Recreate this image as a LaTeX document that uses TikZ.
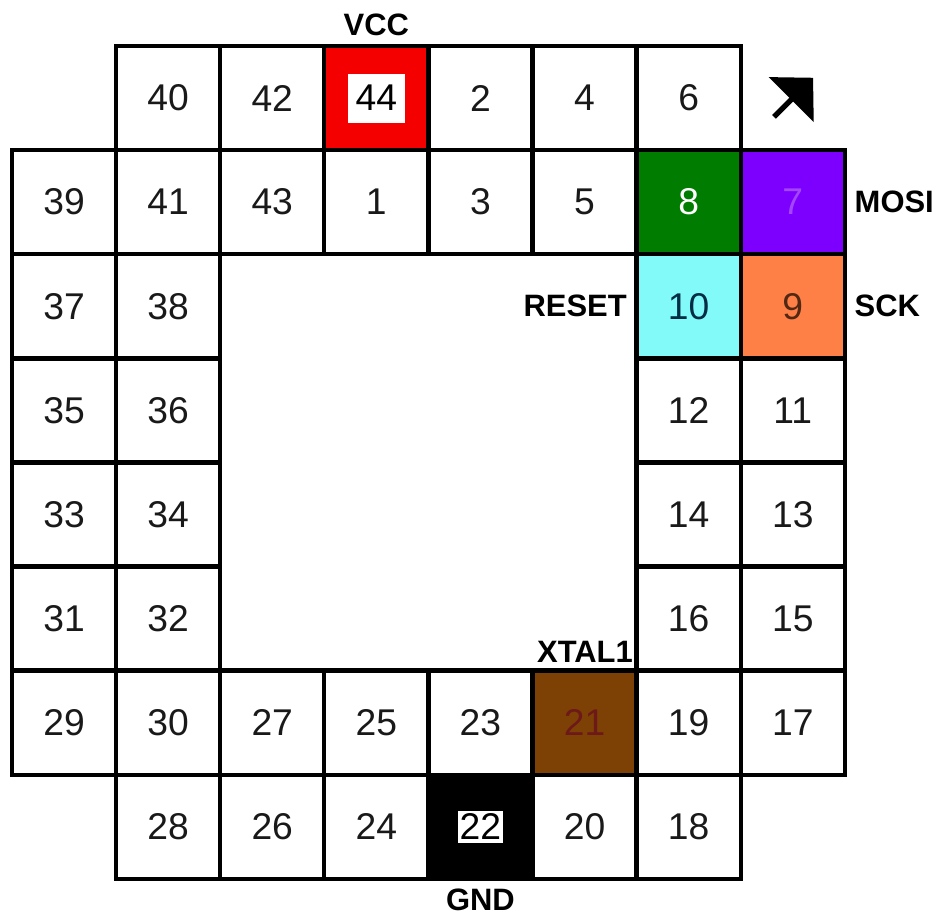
\documentclass[tikz,border=0pt]{standalone}
\usepackage{fontspec}
\setmainfont{Liberation Sans}
\usepackage{xcolor}
\usepackage{tikz}
\usetikzlibrary{arrows.meta, positioning}

\definecolor{pinRed}{RGB}{245,0,0}
\definecolor{pinGreen}{RGB}{0,125,0}
\definecolor{pinPurple}{RGB}{125,0,255}
\definecolor{pinCyan}{RGB}{130,250,250}
\definecolor{pinOrange}{RGB}{255,128,70}
\definecolor{pinBrown}{RGB}{125,65,5}

\begin{document}
\begin{tikzpicture}[
    x=1.041cm,
    y=-1.041cm,
    pin/.style={
        rectangle,
        draw=black,
        line width=1.25pt,
        minimum size=1.041cm,
        inner sep=0pt,
        font=\fontsize{10.6}{12}\selectfont,
        text=black!90
    },
    signal/.style={
        font=\fontsize{8.8}{10}\selectfont\bfseries,
        inner sep=2pt
    },
    numbox/.style={
        fill=white,
        font=\fontsize{10.6}{12}\selectfont
    }
]
    \useasboundingbox (-0.115,-0.442) rectangle (8.953,8.348);

    % Plain pins: number/column/row
    \foreach \n/\c/\r in {40/1/0, 42/2/0, 2/4/0, 4/5/0, 6/6/0,
                          39/0/1, 41/1/1, 43/2/1, 1/3/1, 3/4/1, 5/5/1,
                          37/0/2, 38/1/2, 35/0/3, 36/1/3,
                          33/0/4, 34/1/4, 31/0/5, 32/1/5,
                          12/6/3, 11/7/3, 14/6/4, 13/7/4, 16/6/5, 15/7/5,
                          29/0/6, 30/1/6, 27/2/6, 25/3/6, 23/4/6, 19/6/6, 17/7/6,
                          28/1/7, 26/2/7, 24/3/7, 20/5/7, 18/6/7}
        \node [pin] (p\n) at (\c+0.5, \r+0.5) {\n};

    % Coloured pins
    \node [pin, fill=pinRed, label={[numbox, inner xsep=2.3pt, minimum height=12.4pt]center:44}] (p44) at (3.5, 0.5) {};
    \node [pin, fill=pinGreen, text=white] (p8) at (6.5, 1.5) {8};
    \node [pin, fill=pinPurple, text={rgb,255:red,165;green,70;blue,255}] (p7) at (7.5, 1.5) {7};
    \node [pin, fill=pinCyan, text={rgb,255:red,0;green,45;blue,70}] (p10) at (6.5, 2.5) {10};
    \node [pin, fill=pinOrange, text={rgb,255:red,80;green,40;blue,20}] (p9) at (7.5, 2.5) {9};
    \node [pin, fill=pinBrown, text={rgb,255:red,110;green,25;blue,25}] (p21) at (5.5, 6.5) {21};
    \node [pin, fill=black, label={[numbox, inner xsep=0.6pt, inner ysep=0.8pt]center:22}] (p22) at (4.5, 7.5) {};

    % Signal names
    \node [signal, above=0pt of p44] (vcc) {VCC};
    \node [signal, right=0pt of p7] (mosi) {MOSI};
    \node [signal, right=0pt of p9] (sck) {SCK};
    \node [signal, left=0pt of p10] (reset) {RESET};
    \node [signal, anchor=south east, inner sep=1.5pt] (xtal) at (p21.north east) {XTAL1};
    \node [signal, below=0pt of p22] (gnd) {GND};

    % Orientation arrow
    \coordinate (tail) at (7.32, 0.68);
    \coordinate (tip) at (7.695, 0.305);
    \draw [line width=1.5pt, -{Triangle[length=8.8pt, width=17.8pt]}] (tail) -- (tip);

\end{tikzpicture}
\end{document}
